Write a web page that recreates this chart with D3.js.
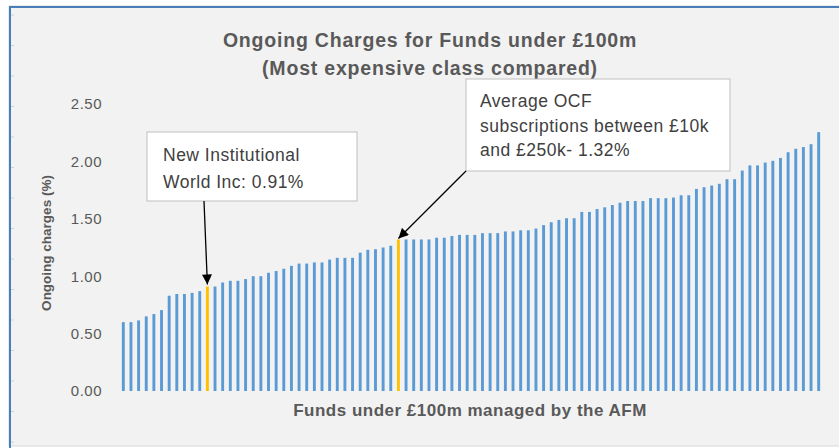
<!DOCTYPE html>
<html>
<head>
<meta charset="utf-8">
<script src="https://cdn.jsdelivr.net/npm/d3@7"></script>
<style>
  body { margin: 0; background: #fff; }
  text { font-family: "Liberation Sans", Arial, sans-serif; }
</style>
</head>
<body>
<div id="chart"></div>
<script>
// charges (%) per fund, sorted ascending
const charges = [
    0.60, 0.60, 0.615, 0.65, 0.67, 0.705, 0.83, 0.845, 0.845, 0.855, 0.87, 0.91, 0.91, 0.945, 0.96, 0.96, 0.975, 1.00,
    1.00, 1.03, 1.045, 1.065, 1.09, 1.11, 1.11, 1.12, 1.12, 1.145, 1.16, 1.16, 1.16, 1.205, 1.23, 1.235, 1.25, 1.265,
    1.32,
    1.32, 1.32, 1.32, 1.32, 1.335, 1.335, 1.35, 1.36, 1.36, 1.36, 1.375, 1.375, 1.375, 1.39, 1.39, 1.40, 1.40,
    1.415, 1.445, 1.47, 1.49, 1.505, 1.505, 1.56, 1.56, 1.585, 1.60, 1.62, 1.64, 1.655, 1.655, 1.655, 1.68, 1.68, 1.68,
    1.685, 1.705, 1.705, 1.76, 1.775, 1.79, 1.805, 1.845, 1.845, 1.92, 1.965, 1.965, 1.99, 2.005, 2.03, 2.08, 2.11, 2.125, 2.15, 2.255
];
const highlighted = [11, 36]; // funds with a callout (yellow)
const yTicks = [0, 0.5, 1, 1.5, 2, 2.5];
const titleLines = ["Ongoing Charges for Funds under £100m", "(Most expensive class compared)"];
const xTitle = "Funds under £100m managed by the AFM";
const yTitle = "Ongoing charges (%)";
const callout1 = ["New Institutional", "World Inc: 0.91%"];
const callout2 = ["Average OCF", "subscriptions between £10k", "and £250k- 1.32%"];

const width = 839, height = 448;
const svg = d3.select("#chart").append("svg")
    .attr("width", width)
    .attr("height", height);

svg.append("defs").append("marker")
    .attr("id", "arrow")
    .attr("viewBox", "0 0 10 10")
    .attr("refX", 10).attr("refY", 5)
    .attr("markerUnits", "userSpaceOnUse")
    .attr("markerWidth", 11).attr("markerHeight", 10)
    .attr("orient", "auto")
    .append("path")
    .attr("d", "M0,0 L10,5 L0,10 Z")
    .attr("fill", "#000");

// chart area background + blue frame (left / top)
svg.append("rect")
    .attr("x", 9).attr("y", 6)
    .attr("width", width).attr("height", 440)
    .attr("fill", "#f2f2f2")
    .attr("stroke", "#d9d9d9");
svg.append("path")
    .attr("d", `M10,${height} L10,7 L${width},7`)
    .attr("fill", "none")
    .attr("stroke", "#4a7ebb")
    .attr("stroke-width", 2);
// faint ruler ticks on the frame
svg.append("g").selectAll("line")
    .data(d3.range(15, height, 30.5))
    .enter().append("line")
    .attr("x1", 11).attr("x2", 14)
    .attr("y1", d => d).attr("y2", d => d)
    .attr("stroke", "#c8d4e6");

const x = d3.scaleBand()
    .domain(d3.range(charges.length))
    .range([119.5, 822.5])
    .paddingInner(0.62)
    .paddingOuter(0.31);

const y = d3.scaleLinear()
    .domain([0, 2.5])
    .range([391, 104]);

// title
svg.append("g").selectAll("text")
    .data(titleLines)
    .enter().append("text")
    .attr("x", 430)
    .attr("y", (d, i) => 47 + i * 28)
    .attr("text-anchor", "middle")
    .attr("font-size", "19.5px")
    .attr("letter-spacing", "0.8px")
    .attr("font-weight", "bold")
    .attr("fill", "#595959")
    .text(d => d);

// y axis (labels only)
const yAxis = svg.append("g")
    .attr("transform", "translate(102,0)")
    .call(d3.axisLeft(y).tickValues(yTicks).tickFormat(d3.format(".2f")).tickSize(0).tickPadding(0));
yAxis.select(".domain").remove();
yAxis.selectAll("text")
    .attr("font-family", "Liberation Sans, Arial, sans-serif")
    .attr("font-size", "15px")
    .attr("letter-spacing", "0.5px")
    .attr("fill", "#595959");

svg.append("text")
    .attr("transform", "translate(51,243) rotate(-90)")
    .attr("text-anchor", "middle")
    .attr("font-size", "13.5px")
    .attr("font-weight", "bold")
    .attr("fill", "#595959")
    .text(yTitle);

svg.append("text")
    .attr("x", 470).attr("y", 416)
    .attr("text-anchor", "middle")
    .attr("font-size", "17px")
    .attr("letter-spacing", "0.5px")
    .attr("font-weight", "bold")
    .attr("fill", "#595959")
    .text(xTitle);

// bars
svg.append("g").selectAll("rect")
    .data(charges)
    .enter().append("rect")
    .attr("x", (d, i) => x(i))
    .attr("y", d => y(d))
    .attr("width", x.bandwidth())
    .attr("height", d => y(0) - y(d))
    .attr("fill", (d, i) => highlighted.includes(i) ? "#ffc000" : "#5b9bd5");

// callouts
function callout(lines, box, lineH, target) {
    const g = svg.append("g");
    g.append("rect")
        .attr("x", box.x).attr("y", box.y)
        .attr("width", box.w).attr("height", box.h)
        .attr("fill", "#fff")
        .attr("stroke", "#bfbfbf");
    g.selectAll("text")
        .data(lines)
        .enter().append("text")
        .attr("x", box.x + box.pad)
        .attr("y", (d, i) => box.y + box.top + i * lineH)
        .attr("font-size", "17.5px")
        .attr("letter-spacing", "0.5px")
        .attr("fill", "#404040")
        .text(d => d);
    g.append("line")
        .attr("x1", box.ax).attr("y1", box.ay)
        .attr("x2", target[0]).attr("y2", target[1])
        .attr("stroke", "#000")
        .attr("stroke-width", 1.3)
        .attr("marker-end", "url(#arrow)");
}

const i1 = highlighted[0], i2 = highlighted[1];
callout(callout1, { x: 147, y: 132, w: 210, h: 69, pad: 16, top: 29, ax: 204, ay: 201 },
    27, [x(i1) + x.bandwidth() / 2, y(charges[i1]) - 2]);
callout(callout2, { x: 466, y: 79, w: 264, h: 92, pad: 14, top: 28, ax: 466, ay: 171 },
    24.5, [x(i2) + x.bandwidth() / 2, y(charges[i2]) - 1]);
</script>
</body>
</html>
